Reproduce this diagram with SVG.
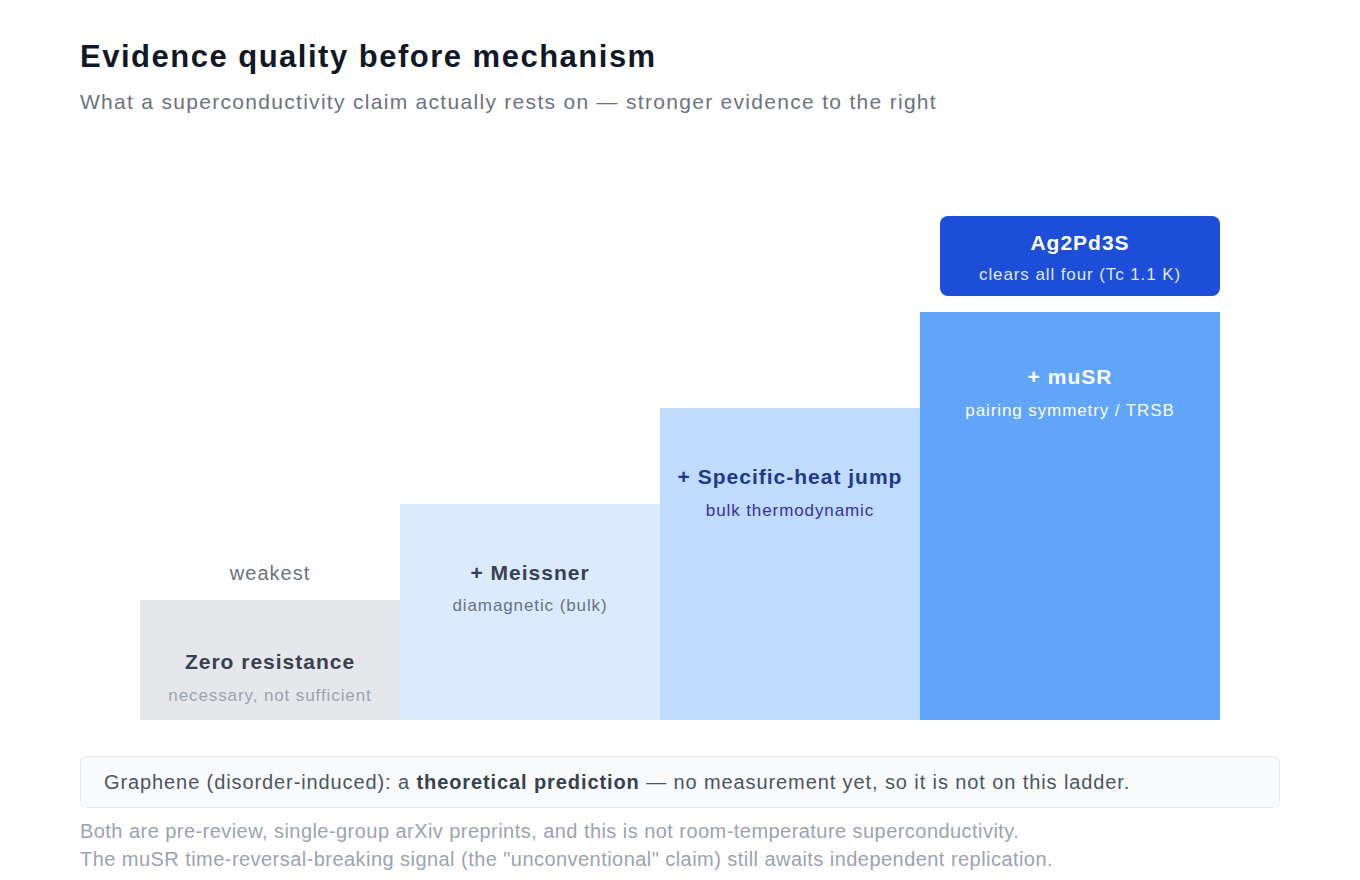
<svg xmlns="http://www.w3.org/2000/svg" width="1360" height="880" viewBox="0 0 1360 880">
<style>
text{font-family:"Liberation Sans",Arial,sans-serif}
.t{font-size:31px;font-weight:bold;fill:#111827;letter-spacing:1.5px}
.st{font-size:21px;fill:#6b7280;letter-spacing:1.3px}
.h{font-size:21px;font-weight:bold;text-anchor:middle;letter-spacing:1px}
.s{font-size:17px;text-anchor:middle;letter-spacing:0.9px}
.f{font-size:20px;fill:#9ca3af;letter-spacing:0.45px}
</style>
<rect width="1360" height="880" fill="#ffffff"/>
<text class="t" x="80" y="67">Evidence quality before mechanism</text>
<text class="st" x="80" y="109">What a superconductivity claim actually rests on — stronger evidence to the right</text>
<g id="step1">
<rect x="140" y="600" width="260" height="120" fill="#e5e7eb"/>
<text x="270" y="580" font-size="20" text-anchor="middle" fill="#6b7280" letter-spacing="1">weakest</text>
<text class="h" x="270" y="669" fill="#374151">Zero resistance</text>
<text class="s" x="270" y="701" fill="#9ca3af">necessary, not sufficient</text>
</g>
<g id="step2">
<rect x="400" y="504" width="260" height="216" fill="#dbeafe"/>
<text class="h" x="530" y="580" fill="#374151">+ Meissner</text>
<text class="s" x="530" y="611" fill="#6b7280">diamagnetic (bulk)</text>
</g>
<g id="step3">
<rect x="660" y="408" width="260" height="312" fill="#bfdbfe"/>
<text class="h" x="790" y="484" fill="#1e3a8a">+ Specific-heat jump</text>
<text class="s" x="790" y="516" fill="#3730a3">bulk thermodynamic</text>
</g>
<g id="step4">
<rect x="920" y="312" width="300" height="408" fill="#60a5fa"/>
<text class="h" x="1070" y="384" fill="#ffffff">+ muSR</text>
<text class="s" x="1070" y="416" fill="#ffffff">pairing symmetry / TRSB</text>
</g>
<g id="badge">
<rect x="940" y="216" width="280" height="80" rx="8" fill="#1d4ed8"/>
<text class="h" x="1080" y="250" fill="#ffffff" letter-spacing="1.6">Ag2Pd3S</text>
<text class="s" x="1080" y="280" fill="#e0e7ff" letter-spacing="0.8">clears all four (Tc 1.1 K)</text>
</g>
<g id="connectors"></g>
<g id="note">
<rect x="80.5" y="756.5" width="1199" height="51" rx="6" fill="#f9fafb" stroke="#e5e7eb"/>
<text x="104" y="789" font-size="20" fill="#4b5563" letter-spacing="0.9">Graphene (disorder-induced): a <tspan font-weight="bold" fill="#374151">theoretical prediction</tspan> — no measurement yet, so it is not on this ladder.</text>
</g>
<text class="f" x="80" y="838">Both are pre-review, single-group arXiv preprints, and this is not room-temperature superconductivity.</text>
<text class="f" x="80" y="866">The muSR time-reversal-breaking signal (the "unconventional" claim) still awaits independent replication.</text>
</svg>
